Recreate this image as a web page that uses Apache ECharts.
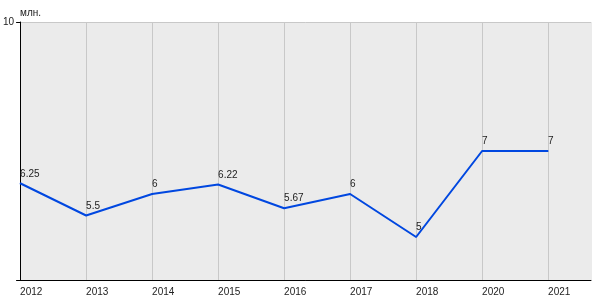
<!DOCTYPE html>
<html><head><meta charset="utf-8">
<script src="https://cdn.jsdelivr.net/npm/echarts@6/dist/echarts.min.js"></script>
<style>html,body{margin:0;padding:0;background:#fff}#c{width:600px;height:300px}</style>
</head><body><div id="c"></div>
<script>
const categories = ['2012','2013','2014','2015','2016','2017','2018','2020','2021'];
const values = [6.25, 5.5, 6, 6.22, 5.67, 6, 5, 7, 7];
const unitLabel = 'млн.';

const chart = echarts.init(document.getElementById('c'), null, {renderer:'canvas'});
const data = values.map((v,i)=>[i,v]);
const gridColors = categories.map(()=> '#c8c8c8').concat(['#ebebeb']);
chart.setOption({
  animation:false,
  textStyle:{fontFamily:'Liberation Sans, Arial, sans-serif'},
  grid:{left:20,right:9,top:22,bottom:20,show:true,backgroundColor:'#ebebeb',borderWidth:0},
  xAxis:{type:'value',min:0,max:8.65,interval:1,
    axisLine:{show:true,lineStyle:{color:'#000',width:1}},
    axisTick:{show:false},
    splitLine:{show:true,lineStyle:{color:gridColors,width:1}},
    axisLabel:{show:true,align:'left',margin:7,fontSize:10,color:'#222',showMaxLabel:false,
      formatter:v=>{const i=Math.round(v);return (Math.abs(v-i)<1e-6 && categories[i]!==undefined)?categories[i]:'';}}
  },
  yAxis:{type:'value',min:4,max:10,interval:6,
    name:unitLabel,nameLocation:'end',nameGap:4,
    nameTextStyle:{align:'left',fontSize:10,color:'#222',padding:[0,0,0,0]},
    axisLine:{show:true,lineStyle:{color:'#000',width:1}},
    axisTick:{show:true,length:4,lineStyle:{color:'#000'}},
    splitLine:{show:true,lineStyle:{color:['#000','#c8c8c8'],width:1}},
    axisLabel:{fontSize:10,color:'#222',margin:6,formatter:v=>v===10?'10':''}
  },
  series:[{type:'line',data:data,symbol:'circle',symbolSize:1,
    lineStyle:{color:'#0047e0',width:2},itemStyle:{color:'#0047e0'},
    label:{show:true,position:'top',align:'left',distance:4,fontSize:10,color:'#222',
      formatter:p=>String(p.value[1])}
  }]
});
</script></body></html>
